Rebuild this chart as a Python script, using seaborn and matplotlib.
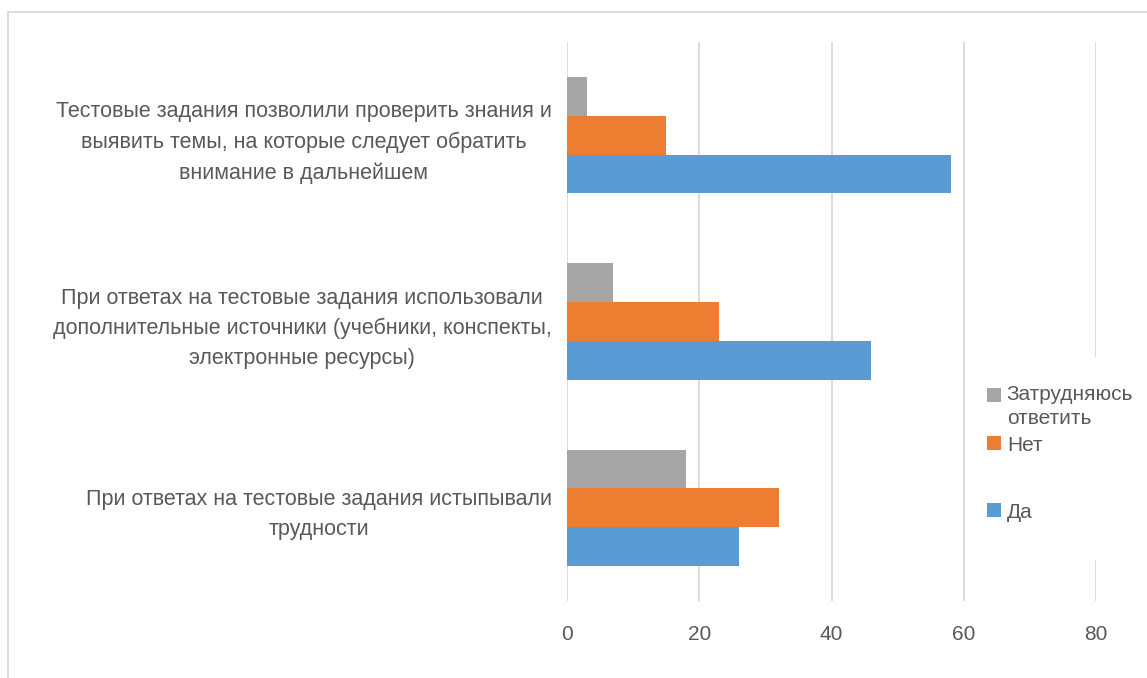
import matplotlib
matplotlib.use("Agg")
import matplotlib.pyplot as plt
import seaborn as sns
import pandas as pd
from matplotlib.patches import Rectangle, Patch

categories = [
    "Тестовые задания позволили проверить знания и\nвыявить темы, на которые следует обратить\nвнимание в дальнейшем",
    "При ответах на тестовые задания использовали\nдополнительные источники (учебники, конспекты,\nэлектронные ресурсы)",
    "При ответах на тестовые задания истыпывали\nтрудности",
]
series = ["Затрудняюсь ответить", "Нет", "Да"]
zatr = [3, 7, 18]
net = [15, 23, 32]
da = [58, 46, 26]
x_ticks = [0, 20, 40, 60, 80]
colors = ["#A5A5A5", "#ED7D31", "#5B9BD5"]

rows = []
for name, vals in zip(series, [zatr, net, da]):
    for c, v in zip(categories, vals):
        rows.append({"cat": c, "series": name, "value": v})
df = pd.DataFrame(rows)

sns.set_theme(style="white")
plt.rcParams["font.family"] = ["Liberation Sans", "DejaVu Sans"]
text_color = "#595959"

fig = plt.figure(figsize=(11.47, 6.78), dpi=100)
ax = fig.add_axes([567/1147, 1-601/678, (1096-567)/1147, (601-42)/678])

sns.barplot(data=df, y="cat", x="value", hue="series", hue_order=series,
            order=categories, palette=colors, orient="h", width=0.625,
            linewidth=0, saturation=1, ax=ax, legend=False)

ax.set_xlim(0, 80)
ax.set_xticks(x_ticks)
ax.set_xticklabels([str(t) for t in x_ticks], fontsize=15, color=text_color)
ax.tick_params(axis="x", length=0, pad=17)
ax.tick_params(axis="y", length=0, pad=11)
for lab in ax.get_yticklabels():
    lab.set_fontsize(15.5)
    lab.set_color(text_color)
    lab.set_multialignment("center")
    lab.set_linespacing(1.57)
ax.set_xlabel("")
ax.set_ylabel("")
ax.grid(axis="x", color="#D9D9D9", linewidth=1.3)
ax.set_axisbelow(True)
for s in ax.spines.values():
    s.set_visible(False)

# white backing for the legend area (hides the gridline like the reference)
fig.patches.append(Rectangle((975/1147, 1-560/678), 172/1147, 203/678,
                             transform=fig.transFigure, facecolor="white",
                             edgecolor="none", zorder=5))

handles = [Patch(facecolor=c, edgecolor="none") for c in colors]
labels = ["Затрудняюсь\nответить", "Нет", "Да"]
common = dict(frameon=False, fontsize=15, labelcolor=text_color,
              handlelength=0.65, handleheight=0.65, handletextpad=0.3,
              borderpad=0, borderaxespad=0)
leg1 = fig.legend(handles[:2], labels[:2], loc="upper left",
                  bbox_to_anchor=(987/1147, 1-385/678), labelspacing=0.35,
                  **common)
for t in leg1.get_texts():
    t.set_linespacing(1.35)
leg2 = fig.legend(handles[2:], labels[2:], loc="center left",
                  bbox_to_anchor=(987/1147, 1-512/678), **common)
leg1.set_zorder(6)
leg2.set_zorder(6)
# align the first handle with the first line of its two-line label
h0 = leg1.legend_handles[0]
h0.set_y(h0.get_y() + 8.5)

fig.patches.append(Rectangle((8/1147, -0.1), 1.5, 1-12/678+0.1,
                             transform=fig.transFigure, fill=False,
                             edgecolor="#D9D9D9", linewidth=1.3))

fig.savefig("out.png", dpi=100, facecolor="white")
